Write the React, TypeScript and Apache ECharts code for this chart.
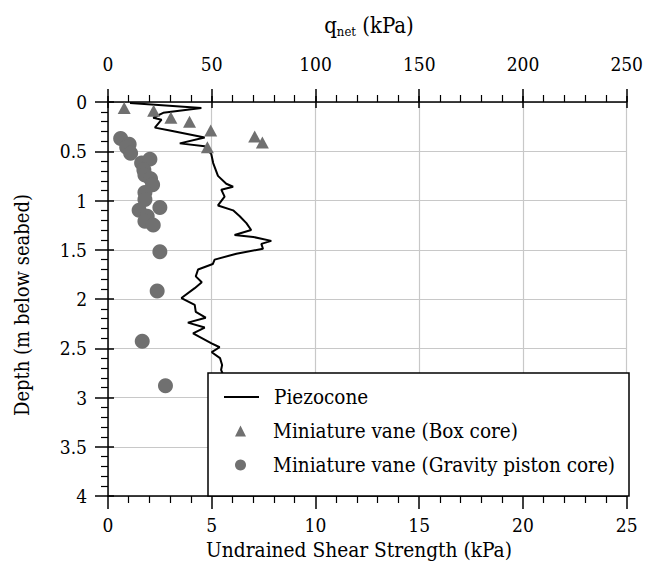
import React, { useEffect, useRef } from "react";
import * as echarts from "echarts";

// Undrained shear strength Su (kPa) vs depth (m)
const piezoconeSu = [1.06, 4.5, 2.66, 2.18, 2.58, 2.26, 2.98, 4.66, 3.46, 4.66, 4.98, 5.07, 5.3, 5.7, 6.03, 5.46, 5.62, 5.3, 6.03, 6.35, 6.67, 6.9, 6.1, 7.0, 7.87, 7.39, 7.47, 6.19, 5.14, 5.05, 4.34, 4.23, 4.52, 4.18, 3.54, 4.18, 4.23, 4.71, 3.85, 4.66, 4.1, 4.99, 5.38, 5.0, 5.4, 5.5, 5.45, 5.55];
const piezoconeDepth = [0.01, 0.06, 0.11, 0.16, 0.18, 0.26, 0.29, 0.36, 0.42, 0.45, 0.53, 0.62, 0.75, 0.83, 0.86, 0.89, 0.96, 1.05, 1.1, 1.16, 1.23, 1.3, 1.35, 1.37, 1.41, 1.44, 1.49, 1.54, 1.6, 1.645, 1.7, 1.77, 1.83, 1.89, 1.99, 2.06, 2.13, 2.19, 2.24, 2.29, 2.35, 2.45, 2.49, 2.54, 2.6, 2.67, 2.72, 2.77];

const boxCoreSu = [0.78, 2.2, 3.03, 3.93, 4.95, 7.07, 7.44, 4.79];
const boxCoreDepth = [0.06, 0.09, 0.16, 0.2, 0.29, 0.35, 0.41, 0.46];

const pistonSu = [0.61, 1.02, 0.9, 1.09, 1.62, 2.02, 1.73, 1.78, 2.05, 2.15, 1.78, 1.78, 2.5, 1.5, 1.89, 1.78, 2.18, 2.5, 2.37, 1.65, 2.77];
const pistonDepth = [0.37, 0.43, 0.46, 0.52, 0.62, 0.58, 0.69, 0.74, 0.78, 0.84, 0.92, 0.99, 1.07, 1.1, 1.16, 1.21, 1.25, 1.52, 1.92, 2.43, 2.88];

const seriesNames = ["Piezocone", "Miniature vane (Box core)", "Miniature vane (Gravity piston core)"];
const suTicks = { min: 0, max: 25, interval: 5 };
const qnetTicks = { min: 0, max: 250, interval: 50 };
const depthTicks = { min: 0, max: 4, interval: 0.5 };

const FONT = "DejaVu Serif Condensed, DejaVu Serif, serif";

export default function App() {
  const ref = useRef<HTMLDivElement>(null);
  useEffect(() => {
    if (!ref.current) return;
    const chart = echarts.init(ref.current, undefined, { renderer: "svg" });
    const zip = (a: number[], b: number[]) => a.map((v, i) => [v, b[i]]);
    const labelStyle = { color: "#000", fontFamily: FONT, fontSize: 19 };
    const hidden = { show: false };
    chart.setOption({
      animation: false,
      backgroundColor: "#fff",
      grid: { left: 108, right: 17, top: 102, bottom: 81, containLabel: false },
      xAxis: [
        {
          type: "value", position: "bottom", ...suTicks,
          axisLine: { show: true, onZero: false, lineStyle: { color: "#000", width: 1.5 } },
          axisTick: { show: true, inside: false, length: 13, lineStyle: { color: "#000", width: 1.5 } },
          minorTick: { show: true, splitNumber: 5, length: 7, lineStyle: { color: "#000", width: 1.2 } },
          axisLabel: { ...labelStyle, margin: 19 },
          splitLine: { show: true, lineStyle: { color: "#c8c8c8", width: 1.2 } },
        },
        {
          type: "value", position: "top", ...qnetTicks,
          axisLine: { show: true, onZero: false, lineStyle: { color: "#000", width: 1.5 } },
          axisTick: { show: true, inside: false, length: 13, lineStyle: { color: "#000", width: 1.5 } },
          minorTick: { show: true, splitNumber: 5, length: 7, lineStyle: { color: "#000", width: 1.2 } },
          axisLabel: { ...labelStyle, margin: 29 },
          splitLine: hidden,
        },
        {
          type: "value", position: "bottom", ...suTicks,
          axisLine: hidden, axisLabel: hidden, splitLine: hidden,
          axisTick: { show: true, inside: true, length: 6, lineStyle: { color: "#000", width: 1.5 } },
        },
        {
          type: "value", position: "top", ...qnetTicks,
          axisLine: hidden, axisLabel: hidden, splitLine: hidden,
          axisTick: { show: true, inside: true, length: 6, lineStyle: { color: "#000", width: 1.5 } },
        },
      ],
      yAxis: [
        {
          type: "value", position: "left", inverse: true, ...depthTicks,
          axisLine: { show: true, onZero: false, lineStyle: { color: "#000", width: 1.5 } },
          axisTick: { show: true, inside: false, length: 13, lineStyle: { color: "#000", width: 1.5 } },
          minorTick: { show: true, splitNumber: 5, length: 7, lineStyle: { color: "#000", width: 1.2 } },
          axisLabel: { ...labelStyle, margin: 21 },
          splitLine: { show: true, lineStyle: { color: "#c8c8c8", width: 1.2 } },
        },
        {
          type: "value", position: "left", inverse: true, ...depthTicks,
          axisLine: hidden, axisLabel: hidden, splitLine: hidden,
          axisTick: { show: true, inside: true, length: 6, lineStyle: { color: "#000", width: 1.5 } },
        },
      ],
      legend: [
        {
          data: [seriesNames[0]],
          left: 223, top: 384, padding: 0,
          itemWidth: 35, itemHeight: 14,
          itemStyle: { color: "rgba(0,0,0,0)", borderWidth: 0 },
          lineStyle: { color: "#000", width: 2 },
          textStyle: { color: "#000", fontFamily: FONT, fontSize: 20.5, lineHeight: 26, padding: [0, 0, 0, 10] },
          z: 20, selectedMode: false,
        },
        {
          data: [seriesNames[1], seriesNames[2]],
          orient: "vertical",
          left: 235, top: 418, padding: 0,
          itemWidth: 11, itemHeight: 11, itemGap: 8,
          textStyle: { color: "#000", fontFamily: FONT, fontSize: 20.5, lineHeight: 26, padding: [0, 0, 0, 22] },
          z: 20, selectedMode: false,
        },
      ],
      graphic: [
        {
          type: "rect", z: 10,
          shape: { x: 208, y: 373, width: 421, height: 123 },
          style: { fill: "#fff", stroke: "#000", lineWidth: 1.5 },
        },
        {
          type: "text", z: 10, x: 369, y: 25,
          style: {
            text: "{a|q}{b|net}{a| (kPa)}",
            align: "center", verticalAlign: "middle",
            rich: {
              a: { fontFamily: FONT, fontSize: 22, fill: "#000", lineHeight: 30 },
              b: { fontFamily: FONT, fontSize: 13, fill: "#000", lineHeight: 30, padding: [12, 0, 0, 0] },
            },
          },
        },
        {
          type: "text", z: 10, x: 359, y: 550,
          style: { text: "Undrained Shear Strength (kPa)", fontFamily: FONT, fontSize: 20.7, fill: "#000", align: "center", verticalAlign: "middle" },
        },
        {
          type: "text", z: 10, x: 22, y: 305, rotation: Math.PI / 2,
          style: { text: "Depth (m below seabed)", fontFamily: FONT, fontSize: 20, fill: "#000", align: "center", verticalAlign: "middle" },
        },
      ],
      series: [
        {
          name: seriesNames[0], type: "line", xAxisIndex: 0, yAxisIndex: 0,
          data: zip(piezoconeSu, piezoconeDepth),
          symbol: "none", lineStyle: { color: "#000", width: 2 }, itemStyle: { color: "#000" },
          z: 3,
        },
        {
          name: seriesNames[1], type: "scatter", xAxisIndex: 0, yAxisIndex: 0,
          data: zip(boxCoreSu, boxCoreDepth),
          symbol: "triangle", symbolSize: [13, 12], itemStyle: { color: "#707070", opacity: 1 },
          z: 4,
        },
        {
          name: seriesNames[2], type: "scatter", xAxisIndex: 0, yAxisIndex: 0,
          data: zip(pistonSu, pistonDepth),
          symbol: "circle", symbolSize: 15, itemStyle: { color: "#707070", opacity: 1 },
          z: 4,
        },
      ],
    });
    return () => chart.dispose();
  }, []);
  return <div ref={ref} style={{ width: 646, height: 577, position: "absolute", left: 0, top: 0 }} />;
}
